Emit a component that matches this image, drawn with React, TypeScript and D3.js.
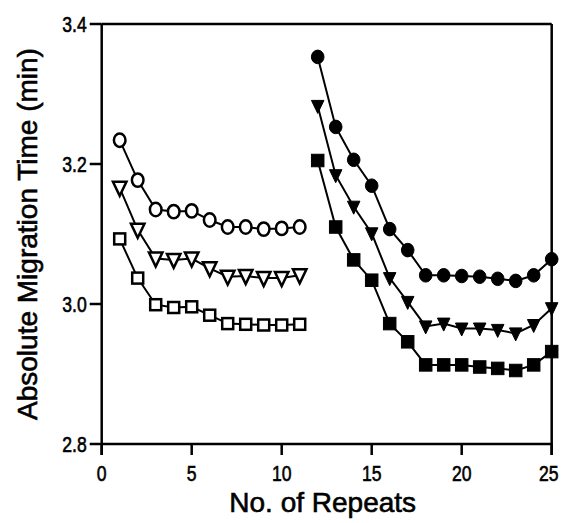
import React from "react";
import * as d3 from "d3";

const repeatsA = [1, 2, 3, 4, 5, 6, 7, 8, 9, 10, 11];
const repeatsB = [12, 13, 14, 15, 16, 17, 18, 19, 20, 21, 22, 23, 24, 25];

const openCircle = [3.234, 3.177, 3.135, 3.132, 3.133, 3.12, 3.11, 3.11, 3.107, 3.108, 3.11];
const openTriangle = [3.166, 3.106, 3.065, 3.063, 3.065, 3.051, 3.039, 3.04, 3.037, 3.037, 3.041];
const openSquare = [3.093, 3.037, 2.999, 2.995, 2.996, 2.984, 2.972, 2.971, 2.97, 2.97, 2.971];

const filledCircle = [3.353, 3.253, 3.206, 3.169, 3.107, 3.077, 3.041, 3.041, 3.04, 3.039, 3.036, 3.033, 3.041, 3.064];
const filledTriangle = [3.283, 3.184, 3.139, 3.101, 3.037, 3.003, 2.968, 2.972, 2.965, 2.965, 2.963, 2.958, 2.97, 2.994];
const filledSquare = [3.205, 3.11, 3.063, 3.034, 2.972, 2.946, 2.913, 2.913, 2.913, 2.91, 2.908, 2.905, 2.913, 2.932];

const xTicks = [0, 5, 10, 15, 20, 25];
const yTicks = [2.8, 3.0, 3.2, 3.4];

const xLabel = "No. of Repeats";
const yLabel = "Absolute Migration Time (min)";

type Shape = "circle" | "triangle" | "square";

const seriesList: { xs: number[]; ys: number[]; shape: Shape; filled: boolean }[] = [
  { xs: repeatsA, ys: openCircle, shape: "circle", filled: false },
  { xs: repeatsA, ys: openTriangle, shape: "triangle", filled: false },
  { xs: repeatsA, ys: openSquare, shape: "square", filled: false },
  { xs: repeatsB, ys: filledCircle, shape: "circle", filled: true },
  { xs: repeatsB, ys: filledTriangle, shape: "triangle", filled: true },
  { xs: repeatsB, ys: filledSquare, shape: "square", filled: true },
];

const W = 562;
const H = 523;
const font = "'Liberation Sans', Arial, Helvetica, sans-serif";

function Marker({ cx, cy, shape, filled }: { cx: number; cy: number; shape: Shape; filled: boolean }) {
  const fill = filled ? "#000" : "#fff";
  const sw = filled ? 1 : 2.5;
  if (shape === "circle") {
    return filled ? (
      <ellipse cx={cx} cy={cy} rx={6.3} ry={6.8} fill={fill} stroke="#000" strokeWidth={sw} />
    ) : (
      <ellipse cx={cx} cy={cy} rx={5.8} ry={6.7} fill={fill} stroke="#000" strokeWidth={sw} />
    );
  }
  if (shape === "square") {
    const s = filled ? 12.5 : 11;
    return <rect x={cx - s / 2} y={cy - s / 2} width={s} height={s} fill={fill} stroke="#000" strokeWidth={sw} />;
  }
  const w = filled ? 12.5 : 13.5;
  const h = filled ? 13 : 14;
  const p = d3.path();
  p.moveTo(cx - w / 2, cy - h / 2 + 1);
  p.lineTo(cx + w / 2, cy - h / 2 + 1);
  p.lineTo(cx, cy + h / 2 + 1);
  p.closePath();
  return <path d={p.toString()} fill={fill} stroke="#000" strokeWidth={sw} strokeLinejoin="miter" />;
}

export default function App() {
  const x = d3.scaleLinear().domain([0, 25]).range([101.7, 551.7]);
  const y = d3.scaleLinear().domain([2.8, 3.4]).range([444, 24]);
  const line = d3
    .line<[number, number]>()
    .x((d) => x(d[0]))
    .y((d) => y(d[1]));

  const x0 = x(0);
  const x1 = x(25);
  const y0 = y(2.8);
  const y1 = y(3.4);

  return (
    <svg
      width={W}
      height={H}
      viewBox={`0 0 ${W} ${H}`}
      style={{ position: "absolute", left: 0, top: 0, background: "#fff" }}
    >
      <rect x={0} y={0} width={W} height={H} fill="#fff" />
      {/* frame */}
      <line x1={x0} y1={y1} x2={x1} y2={y1} stroke="#000" strokeWidth={2.5} />
      <line x1={x1} y1={y1} x2={x1} y2={y0 + 11} stroke="#000" strokeWidth={2.5} />
      <line x1={x0} y1={y1} x2={x0} y2={y0 + 11} stroke="#000" strokeWidth={2.5} />
      <line x1={x0} y1={y0} x2={x1} y2={y0} stroke="#000" strokeWidth={2.5} />
      {/* y ticks */}
      {yTicks.map((t) => (
        <g key={`y${t}`}>
          <line x1={x0 - 12} x2={x0} y1={y(t)} y2={y(t)} stroke="#000" strokeWidth={2.5} />
          <text
            transform={`translate(${x0 - 15}, ${y(t) + 7.5}) scale(0.8, 1)`}
            textAnchor="end"
            fontFamily={font}
            fontSize={22}
            fill="#000"
            stroke="#000"
            strokeWidth={0.6}
          >
            {d3.format(".1f")(t)}
          </text>
        </g>
      ))}
      {/* x ticks */}
      {xTicks.map((t) => (
        <g key={`x${t}`}>
          <line x1={x(t)} x2={x(t)} y1={y0} y2={y0 + 11} stroke="#000" strokeWidth={2.5} />
          <text
            transform={`translate(${x(t) - (t === 25 ? 3 : 0)}, ${y0 + 37}) scale(0.8, 1)`}
            textAnchor="middle"
            fontFamily={font}
            fontSize={22}
            fill="#000"
            stroke="#000"
            strokeWidth={0.6}
          >
            {t}
          </text>
        </g>
      ))}
      {/* axis labels */}
      <text
        x={(x0 + x1) / 2 - 4}
        y={512}
        textAnchor="middle"
        fontFamily={font}
        fontSize={28}
        fill="#000"
        stroke="#000"
        strokeWidth={0.6}
      >
        {xLabel}
      </text>
      <text
        transform={`translate(37, ${(y0 + y1) / 2}) rotate(-90)`}
        textAnchor="middle"
        fontFamily={font}
        fontSize={28}
        fill="#000"
        stroke="#000"
        strokeWidth={0.6}
      >
        {yLabel}
      </text>
      {/* series lines */}
      {seriesList.map((s, i) => (
        <path
          key={`l${i}`}
          d={line(s.xs.map((xv, j) => [xv, s.ys[j]] as [number, number])) || ""}
          fill="none"
          stroke="#000"
          strokeWidth={2}
        />
      ))}
      {/* markers */}
      {seriesList.map((s, i) => (
        <g key={`m${i}`}>
          {s.xs.map((xv, j) => (
            <Marker key={j} cx={x(xv)} cy={y(s.ys[j])} shape={s.shape} filled={s.filled} />
          ))}
        </g>
      ))}
    </svg>
  );
}
